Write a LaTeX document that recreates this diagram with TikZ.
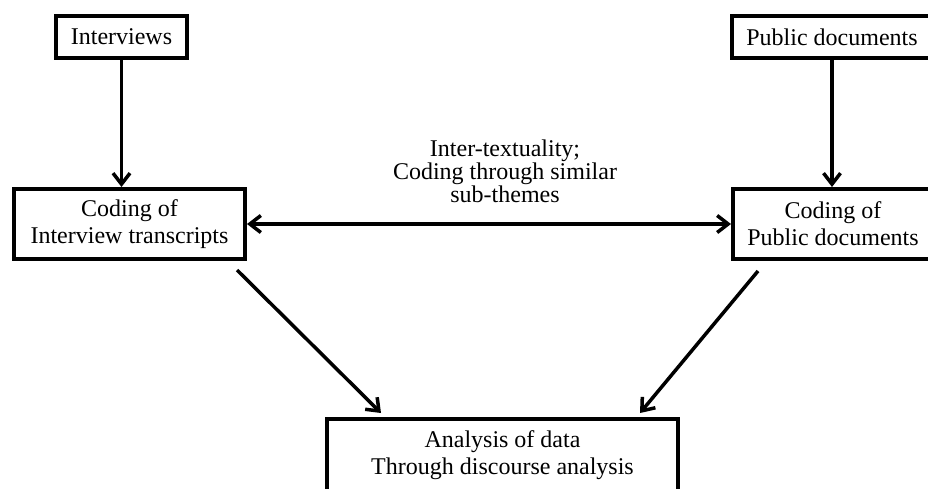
\documentclass[tikz,border=0pt]{standalone}
\usepackage{fontspec}
\setmainfont{Liberation Serif}
\usetikzlibrary{arrows.meta}
\tikzset{
block/.style={rectangle, inner sep=0pt, text centered, align=center, draw=black, line width=4pt, font=\fontsize{24}{27}\selectfont},
note/.style={inner sep=0pt, align=center, font=\fontsize{24}{23}\selectfont},
arrow/.style={line width=3.5pt,-{Straight Barb[length=11pt,width=17pt]}},
twoarrow/.style={line width=3.5pt,{Straight Barb[length=11pt,width=17pt]}-{Straight Barb[length=11pt,width=17pt]}}}

\begin{document}
\begin{tikzpicture}[x=1pt,y=-1pt]
\useasboundingbox (0,0) rectangle (928,488);
\clip (0,0) rectangle (928,488);

\node (interviews) [block, minimum width=131pt, minimum height=42pt] at (121.5,37) {Interviews};
\node (pubdocs) [block, minimum width=200pt, minimum height=42pt] at (832,37) {Public documents};
\node (intcode) [block, minimum width=231pt, minimum height=70pt] at (129.5,224) {Coding of\\Interview transcripts};
\node (pubcode) [block, minimum width=200pt, minimum height=70pt] at (833,224) {Coding of\\Public documents};
\node (analysis) [block, minimum width=351pt, minimum height=72pt] at (502.5,455) {Analysis of data\\Through discourse analysis};
\node (intertext) [note] at (505,171) {Inter-textuality;\\Coding through similar\\sub-themes};

\draw [arrow] (interviews.south) -- (interviews.south |- intcode.north);
\draw [arrow] (pubdocs.south) -- (pubdocs.south |- pubcode.north);
\draw [twoarrow] (intcode.east) -- (pubcode.west);
\draw [arrow] ([xshift=-10pt,yshift=-9pt]intcode.south east) -- ([xshift=56pt,yshift=4pt]analysis.north west);
\draw [arrow] ([xshift=27pt,yshift=-10pt]pubcode.south west) -- ([xshift=-40pt,yshift=4pt]analysis.north east);
\end{tikzpicture}
\end{document}
